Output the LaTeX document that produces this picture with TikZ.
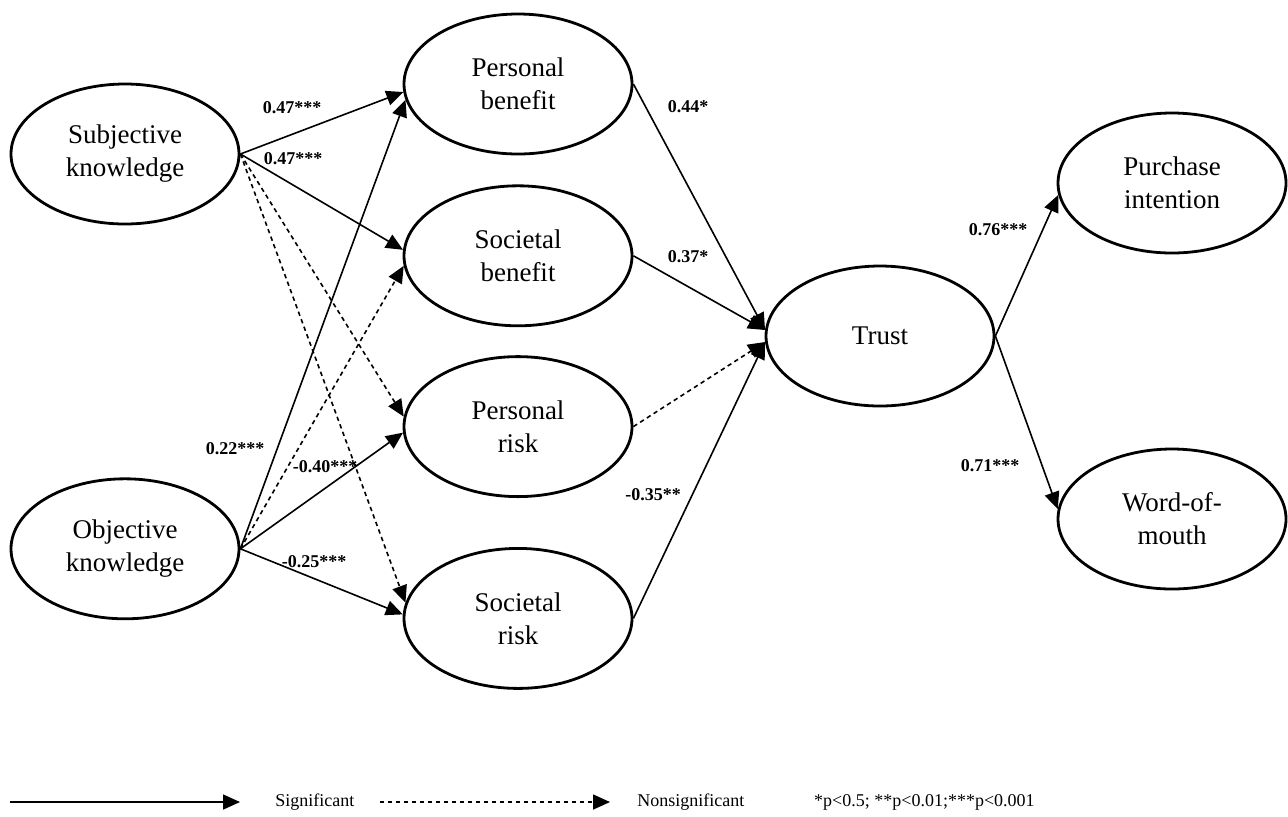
\documentclass[tikz,border=0pt]{standalone}
\usepackage{fontspec}
\setmainfont{Liberation Serif}
\usepackage{tikz}
\usetikzlibrary{arrows.meta,positioning,shapes.geometric}
\tikzset{
  construct/.style={ellipse, draw, line width=1.4pt, minimum width=114pt,
                    minimum height=70pt, align=center,
                    font=\fontsize{13.5}{16.5}\selectfont},
  coef/.style={font=\fontsize{9}{11}\selectfont\bfseries, inner sep=0pt},
  legendtext/.style={font=\fontsize{9}{11}\selectfont, inner sep=0pt},
  sig/.style={-{Triangle[length=8.5pt,width=7.5pt]}, line width=0.8pt},
  nonsig/.style={sig, dash pattern=on 2.2pt off 1.8pt}
}

\begin{document}
\begin{tikzpicture}[x=0.5pt, y=-0.5pt]
  \useasboundingbox (0,0) rectangle (1288,816);
  % knowledge
  \node[construct] (sk) at (125,154) {Subjective\\knowledge};
  \node[construct, below=126pt of sk] (ok) {Objective\\knowledge};
  % perceived benefits and risks
  \node[construct] (pb) at (518,84) {Personal\\benefit};
  \node[construct, below=14.5pt of pb] (sb) {Societal\\benefit};
  \node[construct, below=14pt of sb] (pr) {Personal\\risk};
  \node[construct, below=24.5pt of pr] (sr) {Societal\\risk};
  % trust and outcomes
  \node[construct] (trust) at (880,336) {Trust};
  \node[construct] (pi) at (1172,183) {Purchase\\intention};
  \node[construct] (wom) at (1172,519) {Word-of-\\mouth};

  \draw[sig] (sk.east) -- (pb.184);
  \draw[sig] (sk.east) -- (sb.177);
  \draw[nonsig] (sk.east) -- (pr.175);
  \draw[nonsig] (sk.east) -- (sr.172);
  \draw[sig] (ok.east) -- (pb.188);
  \draw[nonsig] (ok.east) -- (sb.185);
  \draw[sig] (ok.east) -- (pr.183);
  \draw[sig] (ok.east) -- (sr.178);
  \draw[sig] (pb.east) -- (trust.177);
  \draw[sig] (sb.east) -- (trust.177);
  \draw[nonsig] (pr.east) -- (trust.183);
  \draw[sig] (sr.east) -- (trust.183);
  \draw[sig] (trust.east) -- (pi.186);
  \draw[sig] (trust.east) -- (wom.175);

  % path coefficients
  \node[coef] (c-sk-pb) at (292,108) {0.47***};
  \node[coef] (c-sk-sb) at (293,159) {0.47***};
  \node[coef] (c-ok-pb) at (235,449) {0.22***};
  \node[coef] (c-ok-pr) at (325,467) {-0.40***};
  \node[coef] (c-ok-sr) at (314,562) {-0.25***};
  \node[coef] (c-pb-t) at (688,107) {0.44*};
  \node[coef] (c-sb-t) at (688,257) {0.37*};
  \node[coef] (c-sr-t) at (653,495) {-0.35**};
  \node[coef] (c-t-pi) at (998,230) {0.76***};
  \node[coef] (c-t-wom) at (990,466) {0.71***};

  % legend
  \coordinate (sig-a) at (10,802);
  \coordinate (sig-b) at (240,802);
  \draw[sig] (sig-a) -- (sig-b);
  \node[legendtext, right=17.5pt of sig-b] (sig-lab) {Significant};
  \coordinate (ns-a) at (380,802);
  \coordinate (ns-b) at (610,802);
  \draw[nonsig] (ns-a) -- (ns-b);
  \node[legendtext, right=13.5pt of ns-b] (ns-lab) {Nonsignificant};
  \node[legendtext, right=34.5pt of ns-lab] (p-lab) {*p<0.5; **p<0.01;***p<0.001};
\end{tikzpicture}
\end{document}
